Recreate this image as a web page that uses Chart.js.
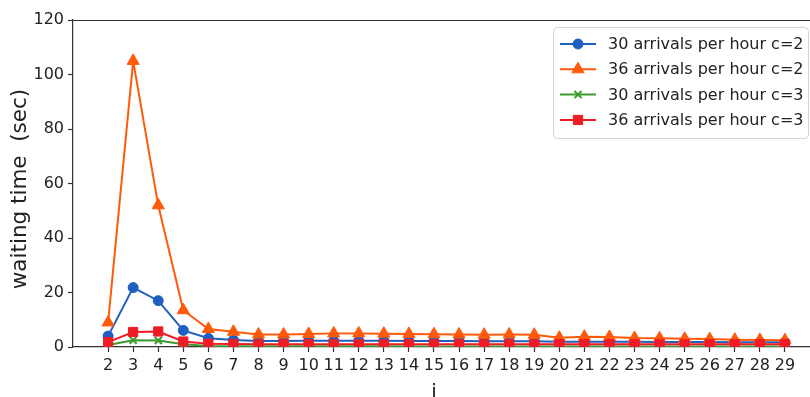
<!DOCTYPE html>
<html>
<head>
<meta charset="utf-8">
<script src="https://cdn.jsdelivr.net/npm/chart.js@4.4.1/dist/chart.umd.min.js"></script>
<style>
  html, body { margin: 0; padding: 0; background: #ffffff; overflow: hidden; }
  #wrap { width: 810px; height: 397px; position: relative; overflow: hidden; }
  #c { position: absolute; left: 0; top: 0; }
</style>
</head>
<body>
<div id="wrap"><canvas id="c" width="818" height="397"></canvas></div>
<script>
// number of servers i
const servers = [2, 3, 4, 5, 6, 7, 8, 9, 10, 11, 12, 13, 14, 15, 16, 17, 18, 19, 20, 21, 22, 23, 24, 25, 26, 27, 28, 29];

// waiting time (sec) per series
const wait30c2 = [4.0, 21.8, 17.0, 6.1, 3.2, 2.6, 2.2, 2.2, 2.3, 2.3, 2.3, 2.3, 2.2, 2.2, 2.2, 2.1, 2.1, 2.1, 1.9, 1.9, 1.9, 1.9, 1.8, 1.8, 1.8, 1.7, 1.7, 1.7];
const wait36c2 = [9.0, 105, 52, 13.5, 6.6, 5.6, 4.6, 4.6, 4.8, 5.0, 5.0, 4.9, 4.8, 4.7, 4.6, 4.5, 4.6, 4.5, 3.4, 3.8, 3.7, 3.3, 3.2, 3.0, 2.9, 2.7, 2.6, 2.5];
const wait30c3 = [0.7, 2.5, 2.4, 1.0, 0.4, 0.3, 0.25, 0.25, 0.25, 0.25, 0.25, 0.25, 0.2, 0.2, 0.2, 0.2, 0.2, 0.2, 0.2, 0.2, 0.2, 0.2, 0.2, 0.2, 0.2, 0.2, 0.2, 0.2];
const wait36c3 = [1.8, 5.5, 5.7, 2.0, 1.2, 1.1, 1.0, 1.0, 1.0, 1.0, 1.0, 1.0, 1.0, 1.0, 1.0, 1.0, 1.0, 1.0, 1.0, 1.0, 1.0, 1.0, 1.0, 1.0, 1.0, 1.0, 1.0, 1.0];

const seriesLabels = [
  '30 arrivals per hour c=2',
  '36 arrivals per hour c=2',
  '30 arrivals per hour c=3',
  '36 arrivals per hour c=3'
];
const yTicks = [0, 20, 40, 60, 80, 100, 120];
const yTitle = 'waiting time  (sec)';
const xTitle = 'i';

const FONT = 'DejaVu Sans';
const AXIS = '#333333';
const TEXT = '#222222';

const styles = [
  { color: '#1f5fc0', pointStyle: 'circle',   radius: 5, order: 4 },
  { color: '#ff5a0a', pointStyle: 'triangle', radius: 7, order: 3 },
  { color: '#3c9a2e', pointStyle: 'crossRot', radius: 5, order: 2 },
  { color: '#ee1c25', pointStyle: 'rect',     radius: 6.5, order: 1 }
];
const seriesValues = [wait30c2, wait36c2, wait30c3, wait36c3];

const datasets = seriesValues.map((vals, k) => ({
  label: seriesLabels[k],
  data: servers.map((s, j) => ({ x: s, y: vals[j] })),
  borderColor: styles[k].color,
  backgroundColor: styles[k].color,
  pointBackgroundColor: styles[k].color,
  pointBorderColor: styles[k].color,
  pointStyle: styles[k].pointStyle,
  pointRadius: styles[k].radius,
  pointBorderWidth: styles[k].pointStyle === 'crossRot' ? 2 : 1,
  borderWidth: 2,
  tension: 0,
  order: styles[k].order
}));

// legend box with line + marker samples, drawn inside the plot area
const boxLegend = {
  id: 'boxLegend',
  afterDraw(chart) {
    const ctx = chart.ctx;
    const bw = 255, bh = 111;
    const bx = 808 - bw, by = 27;
    ctx.save();
    ctx.beginPath();
    ctx.roundRect(bx + 0.5, by + 0.5, bw, bh, 4);
    ctx.fillStyle = 'rgba(255,255,255,0.85)';
    ctx.fill();
    ctx.strokeStyle = '#d4d4d4';
    ctx.lineWidth = 1;
    ctx.stroke();
    ctx.font = '16px "' + FONT + '"';
    ctx.textBaseline = 'middle';
    ctx.textAlign = 'left';
    seriesLabels.forEach((lab, k) => {
      const y = by + 17 + k * 25.3;
      const st = styles[k];
      ctx.strokeStyle = st.color;
      ctx.lineWidth = 2;
      ctx.beginPath();
      ctx.moveTo(bx + 7, y);
      ctx.lineTo(bx + 43, y);
      ctx.stroke();
      ctx.fillStyle = st.color;
      ctx.lineWidth = st.pointStyle === 'crossRot' ? 2 : 1;
      Chart.helpers.drawPoint(ctx, { pointStyle: st.pointStyle, radius: st.radius, rotation: 0, borderWidth: ctx.lineWidth }, bx + 25, y);
      ctx.fillStyle = TEXT;
      ctx.fillText(lab, bx + 55, y + 1);
    });
    ctx.restore();
  }
};

// top spine and the axis titles
const frame = {
  id: 'frame',
  afterDraw(chart) {
    const ctx = chart.ctx;
    const a = chart.chartArea;
    ctx.save();
    ctx.strokeStyle = AXIS;
    ctx.lineWidth = 1.2;
    ctx.beginPath();
    ctx.moveTo(a.left, a.top + 0.5);
    ctx.lineTo(a.right, a.top + 0.5);
    ctx.stroke();
    ctx.fillStyle = TEXT;
    ctx.font = '20px "' + FONT + '"';
    ctx.textAlign = 'center';
    ctx.textBaseline = 'alphabetic';
    ctx.fillText(xTitle, chart.scales.x.getPixelForValue(15), 398);
    ctx.translate(20, 189);
    ctx.rotate(-Math.PI / 2);
    ctx.font = '21.5px "' + FONT + '"';
    ctx.textBaseline = 'middle';
    ctx.fillText(yTitle, 0, 0);
    ctx.restore();
  }
};

new Chart(document.getElementById('c'), {
  type: 'line',
  data: { datasets },
  options: {
    responsive: false,
    animation: false,
    devicePixelRatio: 1,
    layout: { padding: { top: 20, right: 0, bottom: 0, left: 0 } },
    plugins: { legend: { display: false }, tooltip: { enabled: false } },
    scales: {
      x: {
        type: 'linear',
        min: 0.6,
        max: 30,
        afterBuildTicks: s => { s.ticks = servers.map(v => ({ value: v })); },
        afterFit: s => { s.height = 50; },
        ticks: { autoSkip: false, maxRotation: 0, color: TEXT, padding: 4, font: { family: FONT, size: 16 } },
        grid: { drawOnChartArea: false, drawTicks: true, tickLength: 5, color: AXIS, tickWidth: 1.2 },
        border: { display: true, color: AXIS, width: 1.2 }
      },
      y: {
        min: 0,
        max: 120,
        afterBuildTicks: s => { s.ticks = yTicks.map(v => ({ value: v })); },
        afterFit: s => { s.width = 73; },
        ticks: { color: TEXT, padding: 4, font: { family: FONT, size: 16 } },
        grid: { drawOnChartArea: false, drawTicks: true, tickLength: 5, color: AXIS, tickWidth: 1.2 },
        border: { display: true, color: AXIS, width: 1.2 }
      }
    }
  },
  plugins: [boxLegend, frame]
});
</script>
</body>
</html>
